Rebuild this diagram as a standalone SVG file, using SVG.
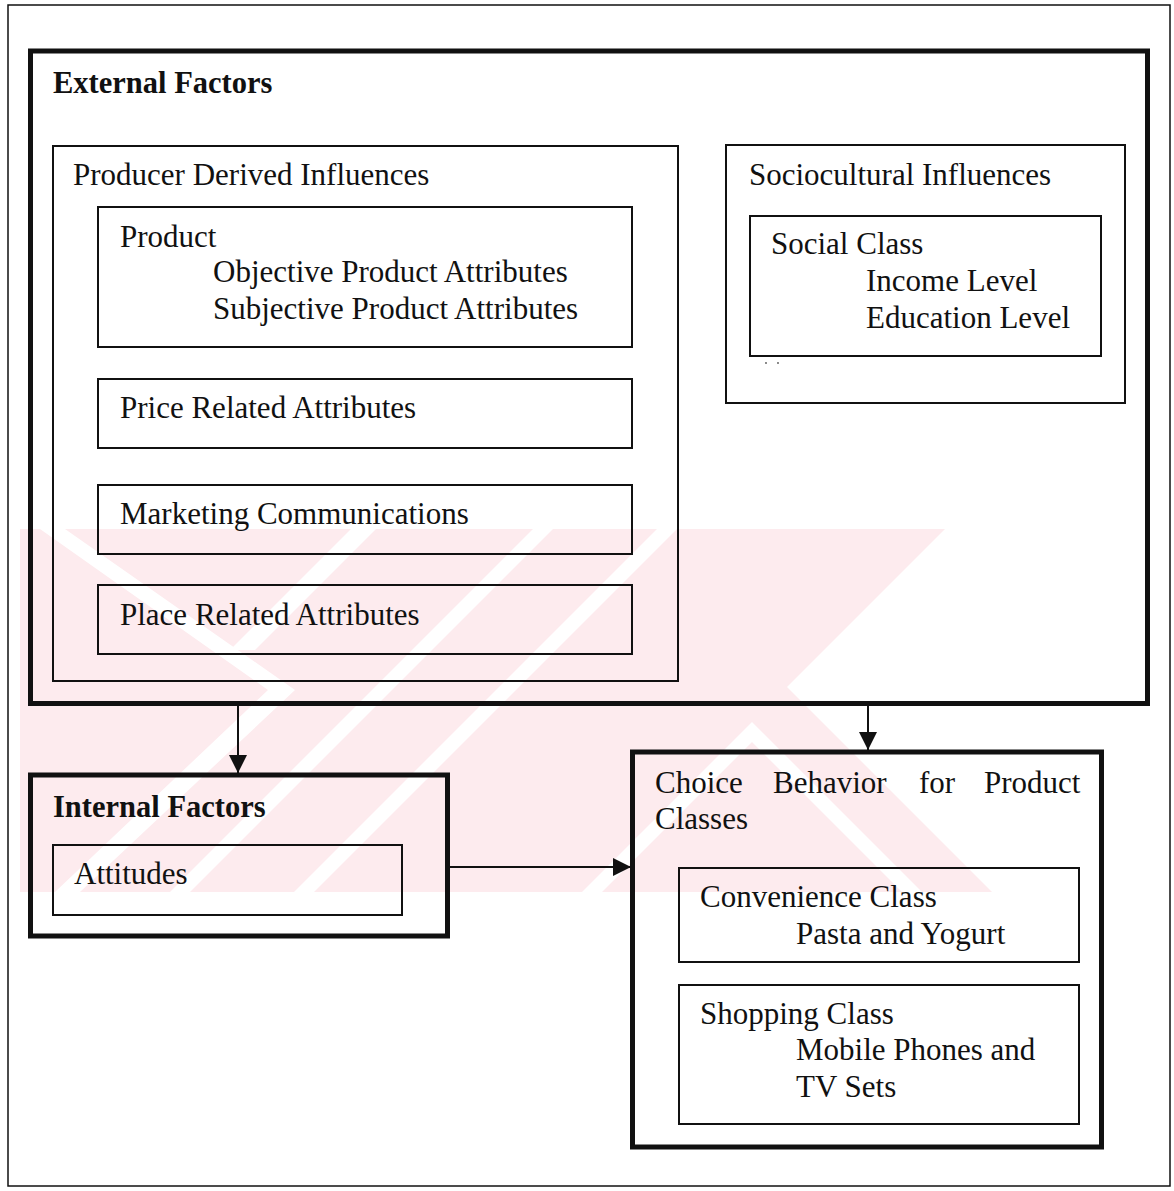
<svg xmlns="http://www.w3.org/2000/svg" width="1174" height="1191" viewBox="0 0 1174 1191">
  <style>
    .t { font-family: "Liberation Serif", "Times New Roman", serif; font-size: 31px; fill: #111; }
    .b { font-family: "Liberation Serif", "Times New Roman", serif; font-size: 30.5px; font-weight: bold; fill: #111; }
    .thin { fill: none; stroke: #111; stroke-width: 2; }
    .thick { fill: none; stroke: #111; stroke-width: 5; }
    .conn { fill: none; stroke: #111; stroke-width: 2; }
    .wm { fill: #fdebee; }
    .wmc { fill: #ffffff; }
  </style>
  <defs>
    <marker id="arrow" markerUnits="userSpaceOnUse" markerWidth="18" markerHeight="18" refX="18" refY="9" orient="auto">
      <path d="M0,0 L18,9 L0,18 Z" fill="#111"/>
    </marker>
  </defs>
  <rect x="0" y="0" width="1174" height="1191" fill="#ffffff"/>

  <!-- watermark -->
  <g id="watermark">
    <polygon class="wm" points="20,529 945,529 787,687 992,892 20,892"/>
    <polygon class="wmc" points="40,529 65,529 295,690 80,892 55,892 268,690"/>
    <polygon class="wmc" points="351,529 376,529 255,650 230,650"/>
    <polygon class="wmc" points="533,529 553,529 190,892 170,892"/>
    <polygon class="wmc" points="657,529 677,529 314,892 294,892"/>
    <polygon class="wmc" points="752,722 582,892 602,892 752,742 902,892 922,892"/>
  </g>

  <!-- outer frame -->
  <rect id="frame" x="8" y="5" width="1162" height="1181" fill="none" stroke="#111" stroke-width="1.5"/>

  <g id="external-factors">
    <rect class="thick" x="30.5" y="51" width="1117" height="652.5"/>
    <text class="b" x="53" y="93">External Factors</text>
  </g>

  <g id="producer-derived-influences">
    <rect class="thin" x="53" y="146" width="625" height="535"/>
    <text class="t" x="73" y="185">Producer Derived Influences</text>
  </g>

  <g id="product">
    <rect class="thin" x="98" y="207" width="534" height="140"/>
    <text class="t" x="120" y="247">Product</text>
    <text class="t" x="213" y="282">Objective Product Attributes</text>
    <text class="t" x="213" y="319">Subjective Product Attributes</text>
  </g>

  <g id="price">
    <rect class="thin" x="98" y="379" width="534" height="69"/>
    <text class="t" x="120" y="418">Price Related Attributes</text>
  </g>

  <g id="marketing">
    <rect class="thin" x="98" y="485" width="534" height="69"/>
    <text class="t" x="120" y="524">Marketing Communications</text>
  </g>

  <g id="place">
    <rect class="thin" x="98" y="585" width="534" height="69"/>
    <text class="t" x="120" y="625">Place Related Attributes</text>
  </g>

  <g id="sociocultural-influences">
    <rect class="thin" x="726" y="145" width="399" height="258"/>
    <text class="t" x="749" y="185">Sociocultural Influences</text>
    <circle cx="766" cy="363" r="0.9" fill="#555"/>
    <circle cx="778" cy="363" r="0.9" fill="#555"/>
  </g>

  <g id="social-class">
    <rect class="thin" x="750" y="216" width="351" height="140"/>
    <text class="t" x="771" y="254">Social Class</text>
    <text class="t" x="866" y="291">Income Level</text>
    <text class="t" x="866" y="328">Education Level</text>
  </g>

  <g id="internal-factors">
    <rect class="thick" x="30.5" y="775" width="417" height="161"/>
    <text class="b" x="53" y="817">Internal Factors</text>
  </g>

  <g id="attitudes">
    <rect class="thin" x="53" y="845" width="349" height="70"/>
    <text class="t" x="74" y="884">Attitudes</text>
  </g>

  <g id="choice-behavior">
    <rect class="thick" x="632.5" y="752" width="469" height="395"/>
    <text class="t" x="655" y="793">Choice</text>
    <text class="t" x="773" y="793">Behavior</text>
    <text class="t" x="919" y="793">for</text>
    <text class="t" x="984" y="793">Product</text>
    <text class="t" x="655" y="829">Classes</text>
  </g>

  <g id="convenience-class">
    <rect class="thin" x="679" y="868" width="400" height="94"/>
    <text class="t" x="700" y="907">Convenience Class</text>
    <text class="t" x="796" y="944">Pasta and Yogurt</text>
  </g>

  <g id="shopping-class">
    <rect class="thin" x="679" y="985" width="400" height="139"/>
    <text class="t" x="700" y="1024">Shopping Class</text>
    <text class="t" x="796" y="1060">Mobile Phones and</text>
    <text class="t" x="796" y="1097">TV Sets</text>
  </g>

  <g id="connectors">
    <line class="conn" x1="238" y1="706" x2="238" y2="773" marker-end="url(#arrow)"/>
    <line class="conn" x1="868" y1="706" x2="868" y2="750" marker-end="url(#arrow)"/>
    <line class="conn" x1="450" y1="867" x2="631" y2="867" marker-end="url(#arrow)"/>
  </g>
</svg>
